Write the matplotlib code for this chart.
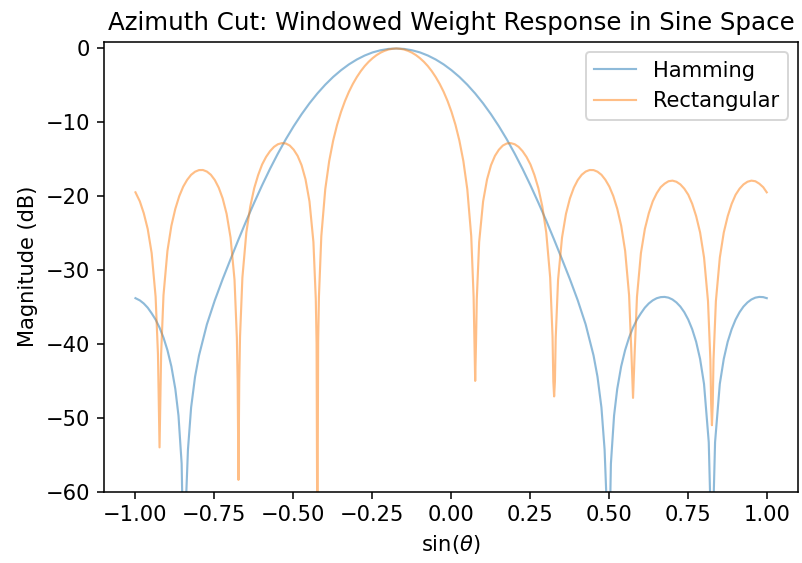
import matplotlib
matplotlib.use("Agg")
import matplotlib.pyplot as plt

# sin(theta) sample positions and magnitudes (dB)
ham_x = [-1.0, -0.9862, -0.9737, -0.9612, -0.9487, -0.9362, -0.9237, -0.9112, -0.8987, -0.8862,
         -0.8737, -0.8637, -0.8537, -0.8477, -0.8337, -0.8237, -0.8112, -0.7987, -0.7737, -0.7487,
         -0.7237, -0.6987, -0.6737, -0.6487, -0.6237, -0.5987, -0.5737, -0.5487, -0.5237, -0.4987,
         -0.4737, -0.4487, -0.4237, -0.3987, -0.3737, -0.3487, -0.3237, -0.2987, -0.2737, -0.2487,
         -0.2237, -0.1987, -0.1737, -0.1487, -0.1237, -0.0987, -0.0737, -0.0487, -0.0237, 0.0013,
         0.0263, 0.0513, 0.0763, 0.1013, 0.1263, 0.1513, 0.1763, 0.2013, 0.2263, 0.2513,
         0.2763, 0.3013, 0.3263, 0.3513, 0.3763, 0.4013, 0.4263, 0.4513, 0.4638, 0.4763,
         0.4863, 0.5003, 0.5063, 0.5163, 0.5263, 0.5388, 0.5513, 0.5638, 0.5763, 0.5888,
         0.6013, 0.6138, 0.6263, 0.6388, 0.6513, 0.6638, 0.6763, 0.6888, 0.7013, 0.7138,
         0.7263, 0.7388, 0.7513, 0.7638, 0.7763, 0.7888, 0.8013, 0.8163, 0.8263, 0.8363,
         0.8513, 0.8639, 0.8763, 0.8889, 0.9013, 0.9139, 0.9263, 0.9389, 0.9513, 0.9639,
         0.9763, 0.9889, 1.0]
ham_db = [-33.80, -34.10, -34.52, -35.09, -35.85, -36.70, -37.79, -39.14, -40.84, -43.04,
          -46.1, -49.7, -56.2, -70.0, -54.3, -48.6, -44.44, -41.56, -37.35, -34.10,
          -31.22, -28.52, -25.87, -23.30, -20.86, -18.51, -16.29, -14.22, -12.29, -10.52,
          -8.90, -7.42, -6.09, -4.90, -3.85, -2.94, -2.15, -1.49, -0.95, -0.53,
          -0.24, -0.06, 0.0, -0.06, -0.24, -0.53, -0.95, -1.49, -2.15, -2.94,
          -3.85, -4.90, -6.09, -7.42, -8.90, -10.52, -12.29, -14.22, -16.29, -18.51,
          -20.86, -23.30, -25.87, -28.52, -31.22, -34.10, -37.35, -41.56, -44.44, -48.6,
          -54.3, -70.0, -56.2, -49.7, -46.1, -43.04, -40.84, -39.14, -37.79, -36.70,
          -35.85, -35.09, -34.52, -34.10, -33.81, -33.66, -33.63, -33.73, -33.98, -34.38,
          -34.94, -35.70, -36.70, -38.00, -39.70, -42.02, -45.41, -53.3, -70.0, -53.3,
          -45.41, -42.02, -39.70, -38.00, -36.70, -35.70, -34.94, -34.38, -33.98, -33.73,
          -33.63, -33.66, -33.80]

rect_x = [-1.0, -0.9862, -0.9737, -0.9612, -0.9487, -0.9362, -0.9287, -0.9262, -0.9237,
          -0.9212, -0.9187, -0.9112, -0.8987, -0.8862, -0.8737, -0.8612, -0.8487, -0.8362, -0.8237,
          -0.8112, -0.7987, -0.7862, -0.7737, -0.7612, -0.7487, -0.7362, -0.7237, -0.7112, -0.6987,
          -0.6862, -0.6787, -0.6762, -0.6737,
          -0.6712, -0.6687, -0.6612, -0.6487, -0.6362, -0.6237, -0.6112, -0.5987, -0.5862, -0.5737,
          -0.5612, -0.5487, -0.5362, -0.5237, -0.5112, -0.4987, -0.4862, -0.4737, -0.4612, -0.4487,
          -0.4362, -0.4287, -0.4262, -0.4237,
          -0.4212, -0.4187, -0.4112, -0.3987, -0.3862, -0.3737, -0.3612, -0.3487, -0.3362, -0.3237,
          -0.3112, -0.2987, -0.2862, -0.2737, -0.2612, -0.2487, -0.2362, -0.2237, -0.2112, -0.1987,
          -0.1862, -0.1737, -0.1612, -0.1487, -0.1362, -0.1237, -0.1112, -0.0987, -0.0862, -0.0737,
          -0.0612, -0.0487, -0.0362, -0.0237, -0.0112, 0.0013, 0.0138, 0.0263, 0.0388, 0.0513,
          0.0638, 0.0713, 0.0738, 0.0763,
          0.0789, 0.0814, 0.0889, 0.1014, 0.1139, 0.1264, 0.1389, 0.1514, 0.1639, 0.1764,
          0.1889, 0.2014, 0.2139, 0.2264, 0.2389, 0.2514, 0.2639, 0.2764, 0.2889, 0.3014,
          0.3139, 0.3214, 0.3239, 0.3264,
          0.3289, 0.3314, 0.3389, 0.3514, 0.3639, 0.3764, 0.3889, 0.4014, 0.4139, 0.4264,
          0.4389, 0.4514, 0.4639, 0.4764, 0.4889, 0.5014, 0.5139, 0.5264, 0.5389, 0.5514,
          0.5639, 0.5714, 0.5764,
          0.5814, 0.5889, 0.6014, 0.6139, 0.6264, 0.6389, 0.6514, 0.6639, 0.6764, 0.6889,
          0.7014, 0.7139, 0.7264, 0.7389, 0.7514, 0.7639, 0.7764, 0.7889, 0.8014, 0.8139,
          0.8214, 0.8239, 0.8264,
          0.8289, 0.8314, 0.8389, 0.8514, 0.8639, 0.8764, 0.8889, 0.9014, 0.9139, 0.9264,
          0.9389, 0.9514, 0.9639, 0.9764, 0.9889, 1.0]
rect_db = [-19.47, -20.69, -22.3, -24.43, -27.7, -33.6, -41.4, -47.4, -54.0,
           -47.4, -41.4, -33.4, -27.4, -24.0, -21.7, -19.98, -18.7, -17.78, -17.1,
           -16.68, -16.46, -16.45, -16.66, -17.09, -17.8, -18.84, -20.3, -22.39, -25.6,
           -31.3, -39.2, -45.1, -58.4,
           -45.1, -39.0, -31.0, -24.9, -21.37, -18.9, -17.12, -15.7, -14.68, -13.9,
           -13.32, -12.96, -12.81, -12.86, -13.14, -13.7, -14.54, -15.8, -17.72, -20.7,
           -26.2, -33.9, -39.9, -70.0,
           -39.69, -33.59, -25.41, -19.05, -15.23, -12.48, -10.33, -8.58, -7.11, -5.86,
           -4.79, -3.87, -3.07, -2.38, -1.80, -1.31, -0.90, -0.57, -0.32, -0.14,
           -0.04, 0.0, -0.04, -0.14, -0.32, -0.57, -0.90, -1.31, -1.80, -2.38,
           -3.07, -3.87, -4.79, -5.86, -7.11, -8.58, -10.33, -12.48, -15.23, -19.05,
           -25.41, -33.59, -39.69, -45.0,
           -39.9, -33.9, -26.2, -20.7, -17.72, -15.8, -14.54, -13.7, -13.14, -12.86,
           -12.81, -12.96, -13.32, -13.9, -14.68, -15.7, -17.12, -18.9, -21.37, -24.9,
           -31.0, -39.0, -45.1, -47.1,
           -45.1, -39.2, -31.3, -25.6, -22.39, -20.3, -18.84, -17.8, -17.09, -16.66,
           -16.45, -16.46, -16.68, -17.1, -17.78, -18.7, -19.98, -21.7, -24.0, -27.4,
           -33.4, -41.4, -47.3,
           -41.4, -33.6, -27.7, -24.43, -22.3, -20.69, -19.6, -18.78, -18.3, -17.97,
           -17.89, -18.04, -18.4, -18.98, -19.8, -21.03, -22.7, -24.91, -28.3, -34.2,
           -42.1, -48.1, -51.0,
           -48.1, -42.1, -34.2, -28.3, -24.91, -22.7, -21.03, -19.8, -18.98, -18.4,
           -18.04, -17.89, -17.97, -18.3, -18.78, -19.47]

series_labels = ["Hamming", "Rectangular"]
xticks = [-1.0, -0.75, -0.5, -0.25, 0.0, 0.25, 0.5, 0.75, 1.0]
yticks = [0, -10, -20, -30, -40, -50, -60]

DPI = 140
FS = 10.8
fig = plt.figure(figsize=(802 / DPI, 563 / DPI), dpi=DPI)
ax = fig.add_axes([103.9 / 802, 1 - 491.7 / 563, 694.4 / 802, 450.0 / 563])

ax.plot(ham_x, ham_db, color="C0", alpha=0.5, lw=1.1, label=series_labels[0])
ax.plot(rect_x, rect_db, color="C1", alpha=0.5, lw=1.1, label=series_labels[1])

ax.set_xlim(-1.1, 1.1)
ax.set_ylim(-60, 0.92)
ax.set_xticks(xticks)
ax.set_xticklabels([f"{t:.2f}".replace("-", "\u2212") for t in xticks])
ax.set_yticks(yticks)
ax.tick_params(labelsize=FS, length=3.5, width=0.8)
ax.set_title("Azimuth Cut: Windowed Weight Response in Sine Space", fontsize=12.6)
ax.set_xlabel(r"$\sin(\theta)$", fontsize=FS)
ax.set_ylabel("Magnitude (dB)", fontsize=FS)
ax.legend(loc="upper right", fontsize=FS)

fig.savefig("out.png", dpi=DPI)
